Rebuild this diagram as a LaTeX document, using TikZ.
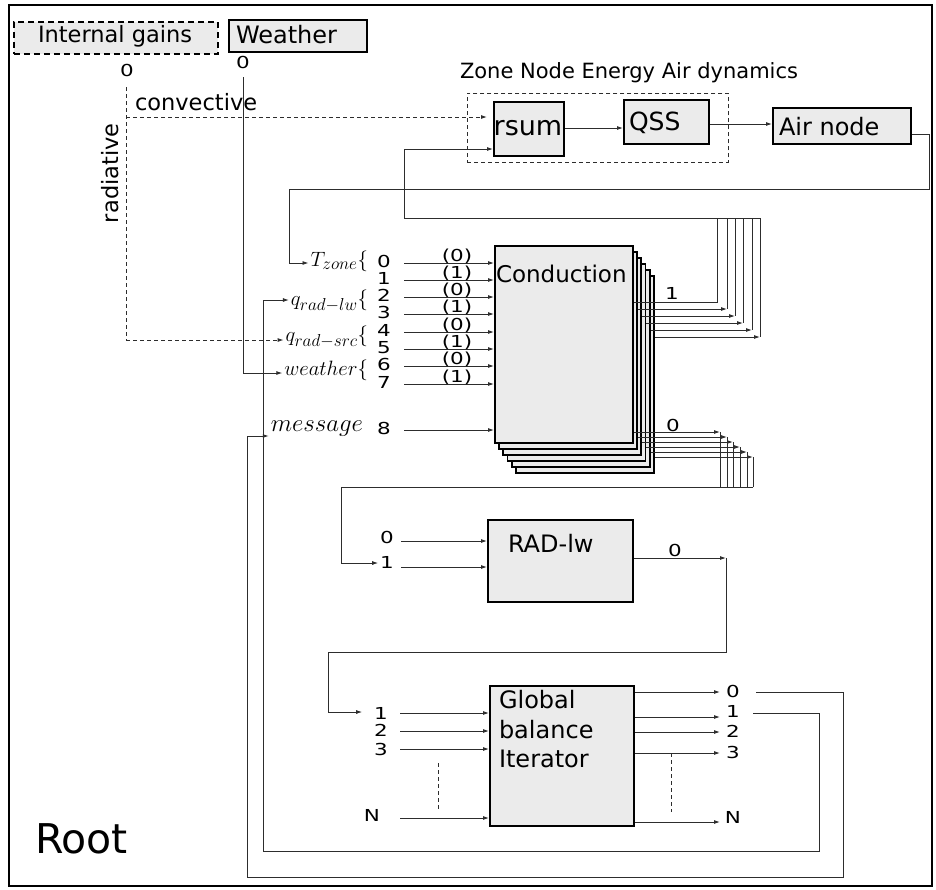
\documentclass[tikz,border=0pt]{standalone}
\usepackage{fontspec}
\setmainfont{DejaVu Sans}
\newfontfamily\portfont[FakeStretch=1.3]{DejaVu Sans}
\DeclareMathSizes{20.74}{20.74}{17.28}{12}
\usetikzlibrary{arrows.meta}
\definecolor{boxgray}{RGB}{235,235,235}
\definecolor{wire}{RGB}{45,45,45}
\tikzset{
 blk/.style={draw=black, line width=1.8pt, fill=boxgray, inner sep=0pt, anchor=north west},
 wirel/.style={draw=wire, line width=0.9pt},
 arw/.style={wirel, -{Latex[length=6pt,width=4pt]}},
 dwire/.style={wirel, dash pattern=on 4pt off 3pt},
 darw/.style={dwire, -{Latex[length=6pt,width=4pt]}},
 txt/.style={inner sep=0pt, outer sep=0pt},
 big/.style={txt, font=\fontsize{24}{28}\selectfont},
 mid/.style={txt, font=\fontsize{22.5}{26}\selectfont},
 port/.style={txt, font=\portfont\fontsize{16.5}{17}\selectfont},
 mlab/.style={txt, font=\fontsize{20.74}{24}\selectfont},
}
\begin{document}
\begin{tikzpicture}[x=1pt,y=-1pt]
\useasboundingbox (0,0) rectangle (936,889);
% frame
\node[draw=black, line width=2pt, inner sep=0pt, anchor=north west, minimum width=923pt, minimum height=881pt] (rootbox) at (8,4) {};
\node[txt, anchor=base west, font=\fontsize{41}{46}\selectfont] (roottxt) at (35,853) {Root};

% sources
\node[blk, line width=1.6pt, dash pattern=on 6pt off 4pt, minimum width=204pt, minimum height=32pt] (ig) at (13,21) {};
\node[mid, anchor=base west] (igt) at (38,42) {Internal gains};
\node[blk, line width=1.6pt, minimum width=138pt, minimum height=32pt] (wb) at (228,19) {};
\node[txt, anchor=base west, font=\fontsize{24}{27}\selectfont] (wbt) at (236,43) {Weather};
\node[port] (ig0) at (127,70) {0};
\node[port] (wb0) at (243,62) {0};

% zone node
\node[txt, anchor=base west, font=\fontsize{21}{25}\selectfont] (znl) at (460,78) {Zone Node Energy Air dynamics};
\node[draw=wire, line width=0.9pt, dash pattern=on 4pt off 3pt, inner sep=0pt, anchor=north west, minimum width=261pt, minimum height=69pt] (zbox) at (467,93) {};
\node[blk, minimum width=70pt, minimum height=54pt] (rsum) at (493,101) {};
\node[txt, font=\fontsize{27}{30}\selectfont] (rsumt) at (528,128) {rsum};
\node[blk, minimum width=85pt, minimum height=44pt] (qss) at (623,99) {};
\node[txt, anchor=base west, font=\fontsize{25}{28}\selectfont] (qsst) at (629,130) {QSS};
\node[blk, minimum width=138pt, minimum height=36pt] (air) at (772,107) {};
\node[big, anchor=base west] (airt) at (779,135) {Air node};
\draw[arw] (rsum.east |- 0,128) -- (qss.west |- 0,128);
\draw[arw] (qss.east |- 0,124) -- (air.west |- 0,124);

% internal gains wires
\coordinate (rad0) at (126,87);
\coordinate (radb) at (126,340);
\coordinate (conv) at (126,117);
\draw[dwire] (rad0) -- (radb);
\draw[darw, shorten >=6pt] (conv) -- (rsum.west |- conv);
\node[mid, anchor=base west] (convt) at (135,110) {convective};
\node[mid, rotate=90, anchor=base west] (radt) at (118,223) {radiative};

% conduction labels
\node[mlab, anchor=east] (tz) at (368,261) {$T_{zone}\{$};
\node[mlab, anchor=east] (qlw) at (368,301) {$q_{rad-lw}\{$};
\node[mlab, anchor=east] (qsrc) at (368,337) {$q_{rad-src}\{$};
\node[mlab, anchor=east] (wth) at (368,370) {$weather\{$};
\node[txt, anchor=east, font=\fontsize{24.88}{28}\selectfont] (msg) at (363,429) {$message$};

% weather wire
\coordinate (wtop) at (243,77);
\coordinate (wbot) at (243,373);
\draw[arw, shorten >=2pt] (wtop) -- (wbot) -- (wth.west |- wbot);
\draw[darw, shorten >=2pt] (radb) -- (qsrc.west |- radb);

% conduction stack
\foreach \i in {5,4,3,2,1,0}
  \node[blk, minimum width=138pt, minimum height=197pt] (cb\i) at ({494+4.2*\i},{245+6*\i}) {};
\node[txt, anchor=base west, font=\fontsize{23}{26}\selectfont] (condt) at (496,282) {Conduction};

\foreach \k/\y in {0/263,1/280,2/297,3/314,4/332,5/349,6/366,7/384,8/430} {
  \node[port] (cd\k) at (384,\y-1.5) {\k};
  \coordinate (cs\k) at (404,\y);
  \draw[arw] (cs\k) -- (cb0.west |- cs\k);
}
\foreach \k/\y/\p in {0/263/0,1/280/1,2/297/0,3/314/1,4/332/0,5/349/1,6/366/0,7/384/1}
  \node[port, anchor=south] (cp\k) at (457,\y+1) {(\p)};

% air node feedback to T_zone
\coordinate (airo) at (929,134);
\draw[arw, shorten >=2pt] (air.east |- airo) -- (airo) -- (929,189) -- (289,189) -- (289,263) -- (tz.west |- cs0);

% conduction outputs 1
\node[port] (o1) at (672,293) {1};
\coordinate (fb) at (404,218);
\draw[arw] (cb0.east |- 0,302) -- (717,302) -- (717,218) -- (fb) -- (404,149) -- (rsum.west |- 0,149);
\draw[wirel] (717,218) -- (760,218);
\foreach \i/\x/\y in {1/727/309,2/735/316,3/743/323,4/752/330,5/760/337} {
  \draw[wirel] (\x,218) -- (\x,\y);
  \draw[arw] (cb\i.east |- 0,\y) -- (\x,\y);
}

% conduction outputs 0
\node[port] (o0) at (673,425) {0};
\foreach \i/\x/\y in {0/720/432,1/727/437,2/733/442,3/740/447,4/747/452,5/753/457} {
  \draw[wirel] (\x,\y) -- (\x,487);
  \draw[arw] (cb\i.east |- 0,\y) -- (\x,\y);
}

% RAD-lw
\node[blk, minimum width=145pt, minimum height=82pt] (rad) at (487,519) {};
\node[big, anchor=base west] (radtx) at (508,552) {RAD-lw};
\node[port] (r0) at (387,537) {0};
\node[port] (r1) at (387,562) {1};
\coordinate (rs0) at (401,541);
\coordinate (rs1) at (401,567);
\draw[arw] (rs0) -- (rad.west |- rs0);
\draw[arw] (rs1) -- (rad.west |- rs1);
\draw[arw, shorten >=2pt] (753,487) -- (341,487) -- (341,563) -- (r1.west |- 0,563);
\node[port] (ro) at (675,550) {0};
\coordinate (radout) at (726,558);
\draw[arw] (rad.east |- radout) -- (radout);

% Global balance iterator
\node[blk, minimum width=144pt, minimum height=140pt] (gbi) at (489,685) {};
\node[big, anchor=base west] (gbt1) at (499,708) {Global};
\node[big, anchor=base west] (gbt2) at (499,738) {balance};
\node[big, anchor=base west] (gbt3) at (499,767) {Iterator};
\foreach \n/\y/\lx/\ly in {1/713/381/713,2/731/381/730,3/749/381/749,N/818/372/815} {
  \node[port] (gi\n) at (\lx,\ly) {\n};
  \coordinate (gs\n) at (400,\y);
  \draw[arw] (gs\n) -- (gbi.west |- gs\n);
}
\draw[arw, shorten >=12pt] (radout) -- (726,652) -- (328,652) -- (328,712) -- (gi1.west |- 0,712);
\draw[dwire] (438,763) -- (438,810);
\foreach \n/\y/\ly in {0/692/691,1/717/711,2/732/731,3/753/752,N/822/817} {
  \node[port] (go\n) at (733,\ly) {\n};
  \coordinate (ge\n) at (720,\y);
  \draw[arw] (gbi.east |- ge\n) -- (ge\n);
}
\draw[dwire] (671,753) -- (671,812);

% feedback loops
\coordinate (lo0) at (756,692);
\coordinate (lo1) at (753,713);
\draw[arw, shorten >=2pt] (lo0) -- (843,692) -- (843,877) -- (247,877) -- (247,436) -- (msg.west |- 0,436);
\draw[arw, shorten >=2pt] (lo1) -- (819,713) -- (819,851) -- (263,851) -- (263,300) -- (qlw.west |- 0,300);
\end{tikzpicture}
\end{document}
